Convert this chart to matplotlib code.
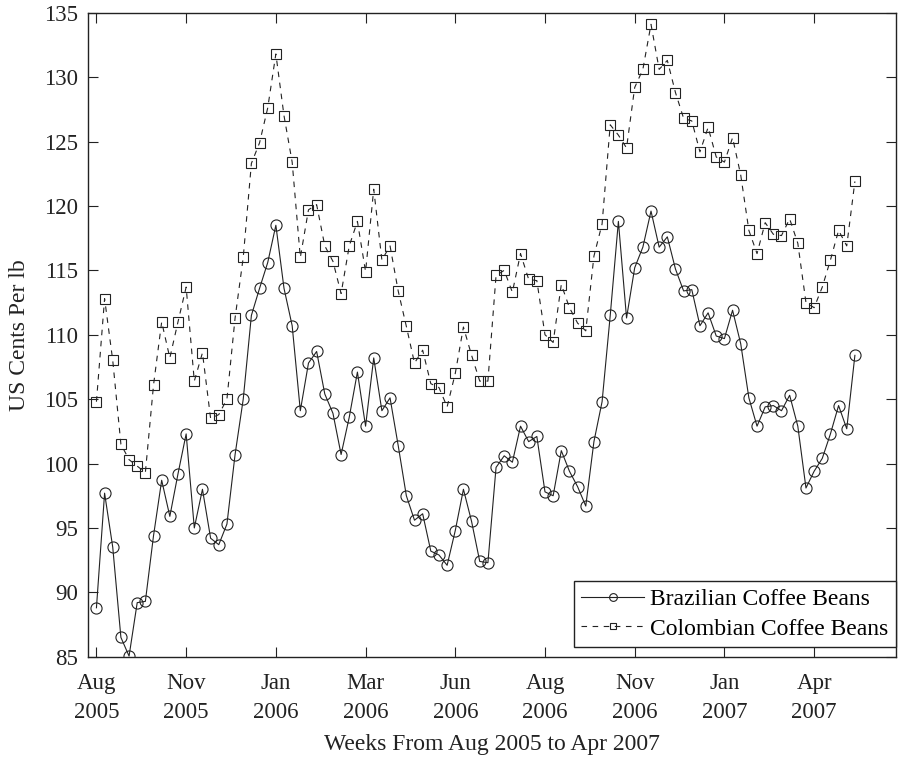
import matplotlib
matplotlib.use('Agg')
import matplotlib.pyplot as plt

# Fonte parecida com Times
plt.rcParams['font.family'] = ['Liberation Serif', 'DejaVu Serif']

# Precos semanais (centavos de dolar por libra)
brazilian = [88.8, 97.7, 93.5, 86.5, 85.05, 89.2, 89.3, 94.4, 98.7, 95.9,
             99.2, 102.3, 95.0, 98.0, 94.2, 93.7, 95.3, 100.7, 105.0, 111.5,
             113.6, 115.6, 118.5, 113.6, 110.7, 104.1, 107.8, 108.7, 105.4, 103.9,
             100.7, 103.6, 107.1, 102.9, 108.2, 104.1, 105.1, 101.4, 97.5, 95.6,
             96.1, 93.2, 92.9, 92.1, 94.8, 98.0, 95.5, 92.4, 92.3, 99.7,
             100.6, 100.1, 102.9, 101.7, 102.1, 97.8, 97.5, 101.0, 99.4, 98.2,
             96.7, 101.7, 104.8, 111.5, 118.8, 111.3, 115.2, 116.8, 119.6, 116.8,
             117.6, 115.1, 113.4, 113.5, 110.7, 111.7, 109.9, 109.7, 111.9, 109.3,
             105.1, 102.9, 104.4, 104.5, 104.1, 105.3, 102.9, 98.1, 99.4, 100.4,
             102.3, 104.5, 102.7, 108.4]

colombian = [104.8, 112.8, 108.0, 101.5, 100.3, 99.8, 99.3, 106.1, 111.0, 108.2,
             111.0, 113.7, 106.4, 108.6, 103.5, 103.8, 105.0, 111.3, 116.0, 123.3,
             124.9, 127.6, 131.8, 127.0, 123.4, 116.0, 119.7, 120.1, 116.9, 115.7,
             113.2, 116.9, 118.8, 114.9, 121.3, 115.8, 116.9, 113.4, 110.65, 107.8,
             108.8, 106.2, 105.9, 104.4, 107.0, 110.6, 108.4, 106.4, 106.4, 114.6,
             115.0, 113.3, 116.3, 114.3, 114.2, 110.0, 109.4, 113.9, 112.1, 110.9,
             110.3, 116.1, 118.6, 126.3, 125.5, 124.5, 129.2, 130.6, 134.1, 130.6,
             131.3, 128.8, 126.8, 126.6, 124.2, 126.1, 123.8, 123.4, 125.3, 122.4,
             118.1, 116.3, 118.7, 117.8, 117.7, 119.0, 117.1, 112.5, 112.1, 113.7,
             115.8, 118.1, 116.9, 121.9]

tick_weeks = [0, 11, 22, 33, 44, 55, 66, 77, 88]
tick_labels = ['Aug\n2005', 'Nov\n2005', 'Jan\n2006', 'Mar\n2006', 'Jun\n2006',
               'Aug\n2006', 'Nov\n2006', 'Jan\n2007', 'Apr\n2007']

weeks = list(range(len(brazilian)))

fig = plt.figure(figsize=(8.99, 7.58), dpi=100)
ax = fig.add_axes([0.0982, 0.1336, 0.8981, 0.8496])

ax.plot(weeks, brazilian, color='#222222', lw=0.8, marker='o', ms=8,
        mfc='none', mec='#222222', mew=0.8, label='Brazilian Coffee Beans')
ax.plot(weeks, colombian, color='#222222', lw=0.8, ls=(0, (5, 5)), marker='s',
        ms=7, mfc='none', mec='#222222', mew=0.8, label='Colombian Coffee Beans')

ax.set_xlim(-1, 98)
ax.set_ylim(85, 135)
ax.set_xticks(tick_weeks)
ax.set_xticklabels(tick_labels, linespacing=1.45)
ax.set_yticks(range(85, 136, 5))

ax.tick_params(direction='in', length=7, width=0.8, top=True, right=True,
               labelsize=16.5, colors='#222222')
ax.tick_params(axis='x', pad=12)
ax.tick_params(axis='y', pad=7.5)
for s in ax.spines.values():
    s.set_linewidth(1.0)
    s.set_color('#222222')

ax.set_xlabel('Weeks From Aug 2005 to Apr 2007', fontsize=17, color='#222222',
              labelpad=8)
ax.set_ylabel('US Cents Per lb', fontsize=17, color='#222222')
ax.yaxis.set_label_coords(-0.072, 0.5)

leg = ax.legend(loc='lower right', bbox_to_anchor=(1.0, 0.0155), fontsize=17,
                fancybox=False, framealpha=1, edgecolor='#222222',
                borderpad=0.3, handlelength=2.7, handletextpad=0.25,
                borderaxespad=0, labelspacing=0.35, markerscale=0.7)
leg.get_frame().set_linewidth(1.0)

fig.savefig('out.png', dpi=100)
